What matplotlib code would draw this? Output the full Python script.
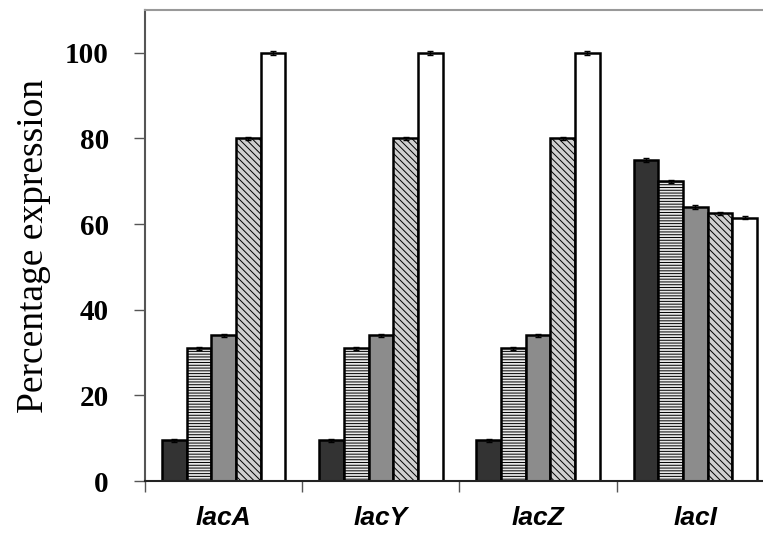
import matplotlib.pyplot as plt
import numpy as np

genes = ['lacA', 'lacY', 'lacZ', 'lacI']

# one list per treatment (5 bars per gene)
s1 = [9.5, 9.5, 9.5, 75]
s2 = [31, 31, 31, 70]
s3 = [34, 34, 34, 64]
s4 = [80, 80, 80, 62.5]
s5 = [100, 100, 100, 61.5]
series = [s1, s2, s3, s4, s5]
errs = [0.4, 0.4, 0.4, 0.4, 0.4]

faces = ['#333333', '#e8e8e8', '#8c8c8c', '#cfcfcf', 'white']
hatches = [None, '------', None, '\\\\\\\\\\', None]

plt.rcParams['hatch.linewidth'] = 0.7
plt.rcParams['hatch.color'] = '#7a7a7a'

fig = plt.figure(figsize=(7.63, 5.44), dpi=100)
ax = fig.add_axes([0.190, 0.1158, 0.81, 0.8658])

x = np.arange(len(genes))
w = 0.157
for i, vals in enumerate(series):
    ax.bar(x + (i - 2) * w, vals, w, color=faces[i], edgecolor='black',
           linewidth=1.8, hatch=hatches[i],
           yerr=errs[i], capsize=2, error_kw=dict(elinewidth=1, capthick=1))

ax.set_xlim(-0.5, 3.43)
ax.set_ylim(0, 110)
ax.set_yticks([0, 20, 40, 60, 80, 100])
ax.set_yticklabels(['0', '20', '40', '60', '80', '100'],
                   fontfamily='Liberation Serif', fontweight='bold', fontsize=21)
ax.set_xticks(x)
ax.set_xticklabels(genes, fontfamily='Liberation Sans', fontweight='bold',
                   fontstyle='italic', fontsize=19)
ax.tick_params(axis='x', length=0, pad=18)
ax.set_xticks([-0.5, 0.5, 1.5, 2.5], minor=True)
ax.tick_params(axis='x', which='minor', length=8, width=1, color='#555555')
ax.tick_params(axis='y', length=8, width=1, color='#555555', pad=18)
ax.set_ylabel('Percentage expression', fontfamily='Liberation Serif',
              fontsize=27, labelpad=10)

for s in ['left', 'top', 'bottom']:
    ax.spines[s].set_color('#555555')
    ax.spines[s].set_linewidth(1.5)
ax.spines['bottom'].set_color('#222222')
ax.spines['top'].set_color('#999999')
ax.spines['right'].set_visible(False)

plt.savefig('out.png', dpi=100)
